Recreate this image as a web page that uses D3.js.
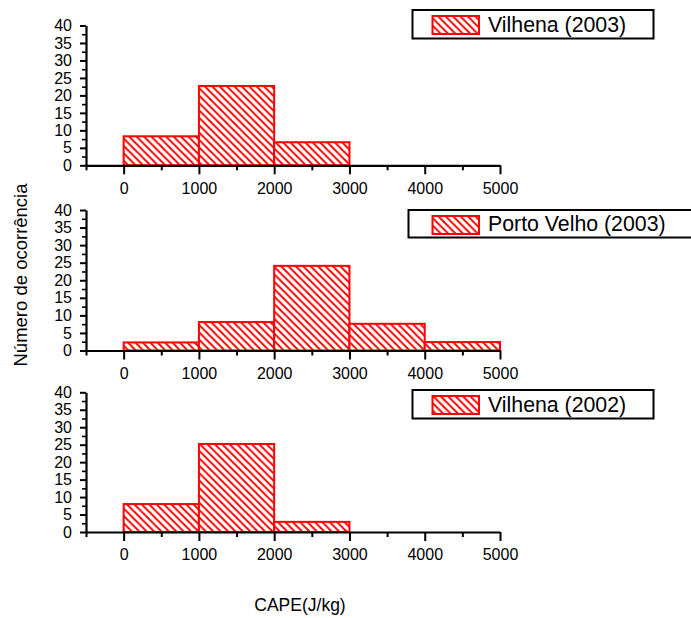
<!DOCTYPE html>
<html>
<head>
<meta charset="utf-8">
<script src="https://cdn.jsdelivr.net/npm/d3@7"></script>
<style>
  html, body { margin: 0; padding: 0; background: #fff; }
  svg { display: block; font-family: "Liberation Sans", Arial, sans-serif; }
</style>
</head>
<body>
<svg id="chart" width="691" height="618"></svg>
<script>
// CAPE bins (J/kg), lower edges; each bin is 1000 J/kg wide
const binStarts = [0, 1000, 2000, 3000, 4000];
const binWidth = 1000;

// Occurrence counts per bin for each station / year
const vilhena2003 = [8.3, 22.7, 6.6];
const portoVelho2003 = [2.3, 8.1, 24.1, 7.6, 2.4];
const vilhena2002 = [8.0, 25.2, 2.9];

const seriesNames = ["Vilhena (2003)", "Porto Velho (2003)", "Vilhena (2002)"];

// Axis ticks
const xMajorTicks = [0, 1000, 2000, 3000, 4000, 5000];
const xMinorTicks = [-500, 500, 1500, 2500, 3500, 4500];
const yMajorTicks = [0, 5, 10, 15, 20, 25, 30, 35, 40];
const yMinorTicks = [2.5, 7.5, 12.5, 17.5, 22.5, 27.5, 32.5, 37.5];

const xAxisTitle = "CAPE(J/kg)";
const yAxisTitle = "Número de ocorrência";

const svg = d3.select("#chart");
const red = "#ff0000";

// Diagonal hatch fill
const defs = svg.append("defs");
const hs = 7.4;
const pat = defs.append("pattern")
  .attr("id", "hatch")
  .attr("patternUnits", "userSpaceOnUse")
  .attr("width", hs).attr("height", hs);
pat.append("rect").attr("width", hs).attr("height", hs).attr("fill", "#fff");
pat.append("path")
  .attr("d", `M0,0 L${hs},${hs} M${-hs/2},${hs/2} L${hs/2},${hs*1.5} M${hs/2},${-hs/2} L${hs*1.5},${hs/2}`)
  .attr("stroke", red).attr("stroke-width", 1.9).attr("fill", "none");

const x = d3.scaleLinear().domain([-500, 5000]).range([86, 500]);

const panels = [
  { values: vilhena2003, name: seriesNames[0], y0: 165.3, y40: 25.5,
    legend: { x: 412.5, y: 10, w: 241, h: 28.5 } },
  { values: portoVelho2003, name: seriesNames[1], y0: 350.5, y40: 210,
    legend: { x: 408.5, y: 210, w: 290, h: 27.5 } },
  { values: vilhena2002, name: seriesNames[2], y0: 532, y40: 392.3,
    legend: { x: 412.5, y: 390, w: 241, h: 28.5 } }
];

panels.forEach(p => {
  const y = d3.scaleLinear().domain([0, 40]).range([p.y0, p.y40]);
  const g = svg.append("g");

  // bars
  g.selectAll("rect.bar")
    .data(p.values)
    .join("rect")
    .attr("class", "bar")
    .attr("x", (d, i) => x(binStarts[i]))
    .attr("width", (d, i) => x(binStarts[i] + binWidth) - x(binStarts[i]))
    .attr("y", d => y(d))
    .attr("height", d => y(0) - y(d))
    .attr("fill", "url(#hatch)")
    .attr("stroke", red)
    .attr("stroke-width", 2);

  // x axis
  const xAxis = g.append("g").attr("transform", `translate(0,${p.y0})`)
    .call(d3.axisBottom(x).tickValues(xMajorTicks).tickSize(9).tickSizeOuter(0).tickPadding(8).tickFormat(d3.format("d")));
  xAxis.select(".domain").attr("stroke-width", 2.2);
  xAxis.selectAll(".tick line").attr("stroke-width", 2);
  xAxis.selectAll(".tick text").attr("font-size", 16).attr("fill", "#000")
    .attr("font-family", "Liberation Sans, Arial, sans-serif");
  g.append("g").attr("transform", `translate(0,${p.y0})`)
    .call(d3.axisBottom(x).tickValues(xMinorTicks).tickSize(5).tickFormat(""))
    .call(a => a.select(".domain").remove())
    .selectAll(".tick line").attr("stroke-width", 2);

  // y axis
  const yAxis = g.append("g").attr("transform", `translate(${x(-500)},0)`)
    .call(d3.axisLeft(y).tickValues(yMajorTicks).tickSize(6).tickSizeOuter(0).tickPadding(8));
  yAxis.select(".domain").attr("stroke-width", 2.2);
  yAxis.selectAll(".tick line").attr("stroke-width", 2);
  yAxis.selectAll(".tick text").attr("font-size", 16).attr("fill", "#000")
    .attr("font-family", "Liberation Sans, Arial, sans-serif");
  g.append("g").attr("transform", `translate(${x(-500)},0)`)
    .call(d3.axisLeft(y).tickValues(yMinorTicks).tickSize(4).tickFormat(""))
    .call(a => a.select(".domain").remove())
    .selectAll(".tick line").attr("stroke-width", 1.6);

  // legend
  const L = p.legend;
  const lg = g.append("g");
  lg.append("rect").attr("x", L.x).attr("y", L.y).attr("width", L.w).attr("height", L.h)
    .attr("fill", "#fff").attr("stroke", "#000").attr("stroke-width", 2);
  lg.append("rect").attr("x", 432.5).attr("y", L.y + 6).attr("width", 46.5).attr("height", 18)
    .attr("fill", "url(#hatch)").attr("stroke", red).attr("stroke-width", 2);
  lg.append("text").attr("x", 488).attr("y", L.y + L.h / 2 + 7.5)
    .attr("font-size", 21.3).attr("fill", "#000").text(p.name);
});

// axis titles
svg.append("text")
  .attr("transform", "translate(27,275) rotate(-90)")
  .attr("text-anchor", "middle").attr("font-size", 18.5).attr("fill", "#000")
  .text(yAxisTitle);
svg.append("text")
  .attr("x", 300).attr("y", 611)
  .attr("text-anchor", "middle").attr("font-size", 17.5).attr("fill", "#000")
  .text(xAxisTitle);
</script>
</body>
</html>
